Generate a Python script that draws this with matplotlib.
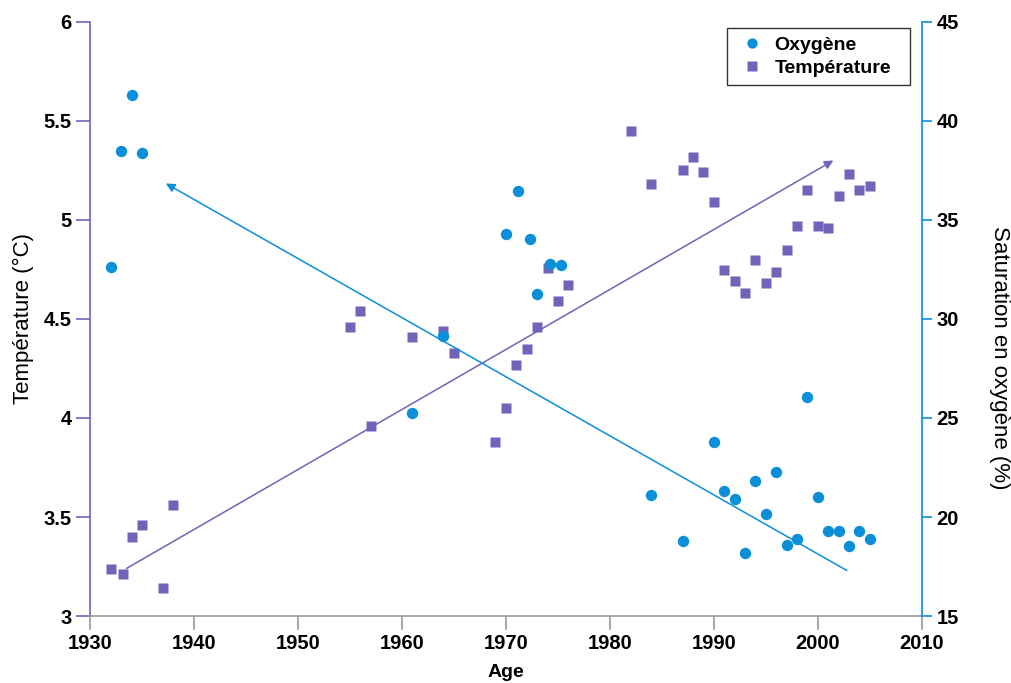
import numpy as np
import matplotlib.pyplot as plt

plt.rcParams['font.family'] = ['Liberation Sans', 'DejaVu Sans']

bleu = '#0b8fd9'
violet = '#7163b9'

# oxygène (axe de droite, %)
annee_o2 = [1932, 1933, 1934, 1935, 1961, 1964, 1970, 1971.2, 1972.3, 1973, 1974.2, 1975.3,
            1984, 1987, 1990, 1991, 1992, 1993, 1994, 1995, 1996, 1997, 1998, 1999,
            2000, 2001, 2002, 2003, 2004, 2005]
oxygene = [32.6, 38.5, 41.3, 38.4, 25.25, 29.15, 34.3, 36.47, 34.05, 31.24, 32.8, 32.7,
           21.1, 18.8, 23.8, 21.3, 20.9, 18.2, 21.8, 20.15, 22.25, 18.6, 18.9, 26.05,
           21.0, 19.3, 19.3, 18.55, 19.3, 18.87]

# température (axe de gauche, °C)
annee_t = [1932, 1933.2, 1934, 1935, 1937, 1938, 1955, 1956, 1957, 1961, 1964, 1965,
           1969, 1970, 1971, 1972, 1973, 1974.1, 1975, 1976,
           1982, 1984, 1987, 1988, 1989, 1990, 1991, 1992, 1993, 1994, 1995, 1996,
           1997, 1998, 1999, 2000, 2001, 2002, 2003, 2004, 2005]
temperature = [3.24, 3.21, 3.40, 3.46, 3.14, 3.56, 4.46, 4.54, 3.96, 4.41, 4.44, 4.33,
               3.88, 4.05, 4.27, 4.35, 4.46, 4.755, 4.59, 4.67,
               5.45, 5.18, 5.25, 5.32, 5.24, 5.09, 4.745, 4.69, 4.63, 4.80, 4.68, 4.735,
               4.85, 4.97, 5.15, 4.97, 4.96, 5.12, 5.23, 5.15, 5.17]

# tendances (début, fin)
tend_o2_x = [2002.8, 1937.3]
tend_o2_y = [17.3, 36.84]
tend_t_x = [1933.5, 2001.5]
tend_t_y = [3.24, 5.30]

fig = plt.figure(figsize=(10.11, 6.83), dpi=100)
ax = fig.add_axes([0.089, 0.098, 0.8227, 0.870])
ax2 = ax.twinx()

ax.plot(annee_t, temperature, 's', color=violet, ms=7.3, mec='none', label='Température')
ax2.plot(annee_o2, oxygene, 'o', color=bleu, ms=8.2, mec='none', label='Oxygène')

ax.annotate('', xy=(tend_t_x[1], tend_t_y[1]), xytext=(tend_t_x[0], tend_t_y[0]),
            arrowprops=dict(arrowstyle='-|>', color=violet, lw=1.1,
                            mutation_scale=13, shrinkA=0, shrinkB=0))
ax2.annotate('', xy=(tend_o2_x[1], tend_o2_y[1]), xytext=(tend_o2_x[0], tend_o2_y[0]),
             arrowprops=dict(arrowstyle='-|>', color=bleu, lw=1.1,
                             mutation_scale=13, shrinkA=0, shrinkB=0))

ax.set_xlim(1930, 2010)
ax.set_ylim(3, 6)
ax2.set_ylim(15, 45)
ax.set_xticks(np.arange(1930, 2011, 10))
ax.set_yticks(np.arange(3, 6.01, 0.5))
ax.set_yticklabels(['3', '3.5', '4', '4.5', '5', '5.5', '6'])
ax2.set_yticks(np.arange(15, 46, 5))

for a in (ax, ax2):
    a.spines['top'].set_visible(False)
ax.spines['right'].set_visible(False)
ax2.spines['left'].set_visible(False)
ax2.spines['bottom'].set_visible(False)
ax.spines['left'].set_color(violet)
ax.spines['bottom'].set_color('#999999')
ax2.spines['right'].set_color(bleu)
for s in ('left', 'bottom'):
    ax.spines[s].set_linewidth(1.2)
ax2.spines['right'].set_linewidth(1.2)

ax.tick_params(axis='y', direction='out', length=10, width=1.2, color=violet,
               labelsize=14.5, pad=3)
ax.tick_params(axis='x', direction='out', length=10, width=1.2, color='#999999',
               labelsize=14.5, pad=3)
ax2.tick_params(axis='y', direction='out', length=7.5, width=1.2, color=bleu,
                labelsize=14.5, pad=3)
for lab in ax.get_xticklabels() + ax.get_yticklabels() + ax2.get_yticklabels():
    lab.set_fontweight('bold')

ax.set_xlabel('Age', fontsize=14, fontweight='bold', labelpad=8)
ax.set_ylabel('Température (°C)', fontsize=16, va='center')
ax.yaxis.set_label_coords(-0.08, 0.5)
ax2.set_ylabel('Saturation en oxygène (%)', fontsize=16, rotation=270, va='center')
ax2.yaxis.set_label_coords(1.094, 0.434)

h1, l1 = ax2.get_legend_handles_labels()
h2, l2 = ax.get_legend_handles_labels()
leg = ax2.legend(h1 + h2, l1 + l2, loc='upper left', mode='expand',
                 bbox_to_anchor=(0.7655, 0.5, 0.2204, 0.4889), borderaxespad=0,
                 prop=dict(size=14, weight='bold'), frameon=True, fancybox=False,
                 edgecolor='black', borderpad=0.4, labelspacing=0.3,
                 handlelength=1.8, handletextpad=0.25, markerscale=0.9)
leg.get_frame().set_linewidth(1.0)

fig.savefig('out.png', dpi=100)
